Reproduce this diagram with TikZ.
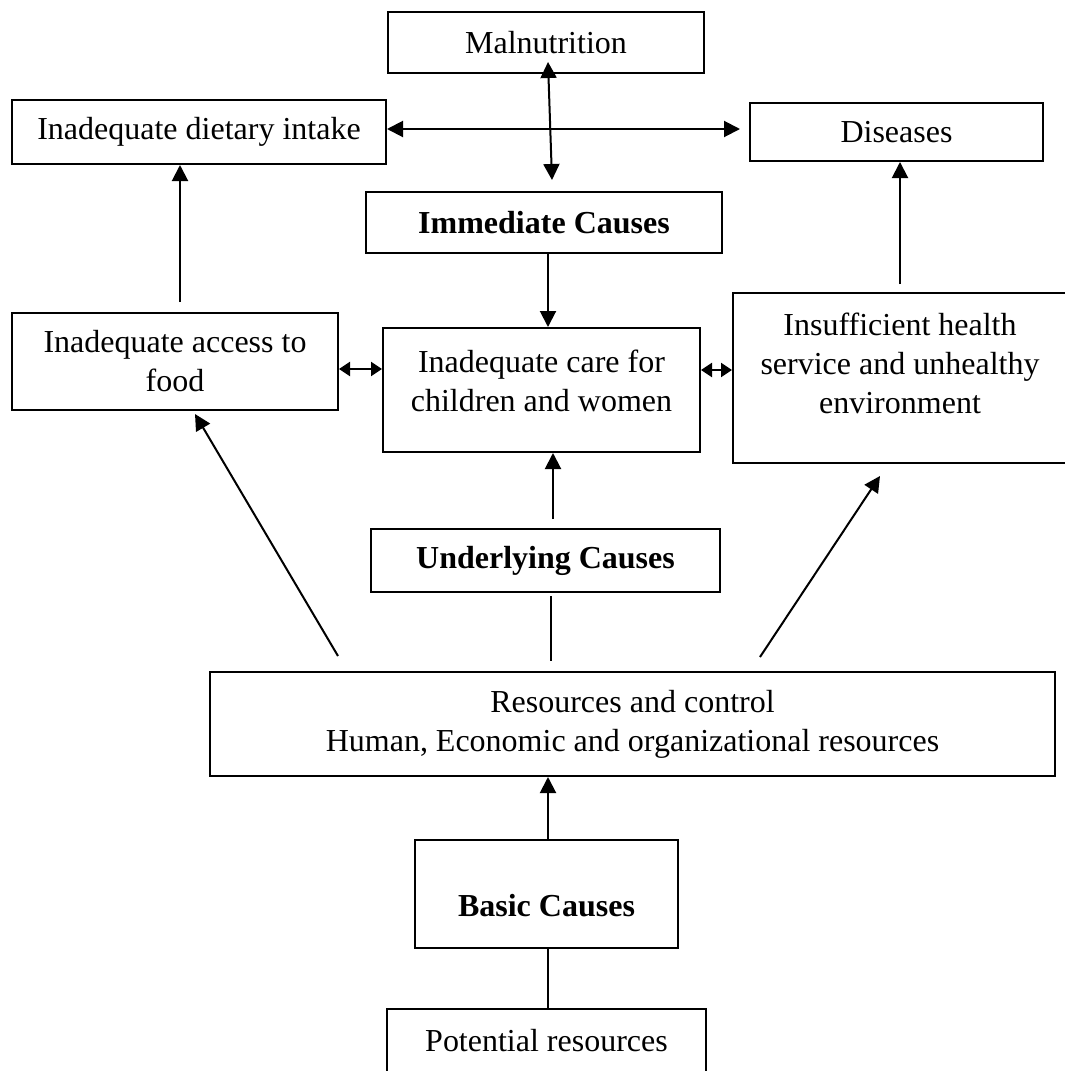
\documentclass[tikz,border=0pt]{standalone}
\usepackage{fontspec}
\setmainfont{Liberation Serif}
\usetikzlibrary{positioning,arrows.meta}
\tikzset{
  flowarrow/.style={-{Triangle[length=8pt,width=8pt]}, line width=1pt},
  botharrow/.style={{Triangle[length=8pt,width=8pt]}-{Triangle[length=8pt,width=8pt]}, line width=1pt},
  shortboth/.style={{Triangle[length=5.5pt,width=7pt]}-{Triangle[length=5.5pt,width=7pt]}, line width=1pt},
  plainline/.style={line width=1pt},
  causebox/.style={draw, line width=1pt, inner sep=2pt, align=center},
  headbox/.style={causebox, font=\fontsize{16}{19.5}\selectfont\bfseries}
}

\begin{document}
\begin{tikzpicture}[x=0.5pt, y=-0.5pt, every node/.style={font=\fontsize{16}{19.5}\selectfont}]
      \useasboundingbox (0,0) rectangle (1065,1071);
      \clip (0,0) rectangle (1065,1071);
      \node[causebox, minimum width=158pt, minimum height=30.5pt] (maln) at (546,42.5) {Malnutrition};
      \node[causebox, minimum width=187pt, minimum height=32pt] (diet) at (199,132) {Inadequate dietary intake};
      \node[causebox, minimum width=146.5pt, minimum height=29pt] (dis) at (896.5,132) {Diseases};
      \node[headbox, minimum width=178pt, minimum height=30.5pt] (imm) at (544,222.5) {Immediate Causes};
      \node[causebox, minimum width=163pt, minimum height=48.5pt] (access) at (175,361.5) {Inadequate access to\\food};
      \node[causebox, minimum width=158.5pt, minimum height=62pt, text depth=9pt] (care) at (541.5,390) {Inadequate care for\\children and women};
      \node[causebox, minimum width=167pt, minimum height=85pt, text depth=15pt] (insuf) at (900,378) {Insufficient health\\service and unhealthy\\environment};
      \node[headbox, minimum width=174.5pt, minimum height=31.5pt] (und) at (545.5,560.5) {Underlying Causes};
      \node[causebox, minimum width=422.5pt, minimum height=52pt] (res) at (632.5,724) {Resources and control\\Human, Economic and organizational resources};
      \node[headbox, minimum width=131.5pt, minimum height=54pt, text height=22pt, text depth=0pt] (basic) at (546.5,894) {Basic Causes};
      \node[causebox, minimum width=159.5pt, minimum height=32pt] (pot) at (546.5,1041) {Potential resources};
      \draw[botharrow] ([xshift=1pt,yshift=6pt]maln.south) -- ([xshift=4pt,yshift=5.5pt]imm.north);
      \draw[botharrow] ([yshift=1.5pt]diet.east) -- ([xshift=-4.5pt,yshift=1.5pt]dis.west);
      \draw[flowarrow] ([xshift=2pt]imm.south) -- ([xshift=3.25pt]care.north);
      \draw[shortboth] ([yshift=-3.75pt]access.east) -- ([yshift=10.5pt]care.west);
      \draw[shortboth] ([yshift=10pt]care.east) -- ([yshift=4pt]insuf.west);
      \draw[flowarrow] ([xshift=2.5pt,yshift=5pt]access.north) -- ([xshift=-9.5pt]diet.south);
      \draw[flowarrow] ([yshift=4pt]insuf.north) -- ([xshift=1.75pt]dis.south);
      \draw[flowarrow] ([xshift=3.75pt,yshift=4.5pt]und.north) -- ([xshift=5.75pt]care.south);
      \draw[plainline] ([xshift=2.75pt,yshift=-1.5pt]und.south) -- ([xshift=-40.75pt,yshift=5pt]res.north);
      \draw[flowarrow] ([xshift=-147.25pt,yshift=7.5pt]res.north) -- ([xshift=10pt,yshift=-1.5pt]access.south);
      \draw[flowarrow] ([xshift=63.75pt,yshift=7pt]res.north) -- ([xshift=-10pt,yshift=-6pt]insuf.south);
      \draw[flowarrow] ([xshift=0.75pt]basic.north) -- ([xshift=-42.25pt]res.south);
      \draw[plainline] ([xshift=0.75pt]basic.south) -- ([xshift=0.75pt]pot.north);
    \end{tikzpicture}
\end{document}
